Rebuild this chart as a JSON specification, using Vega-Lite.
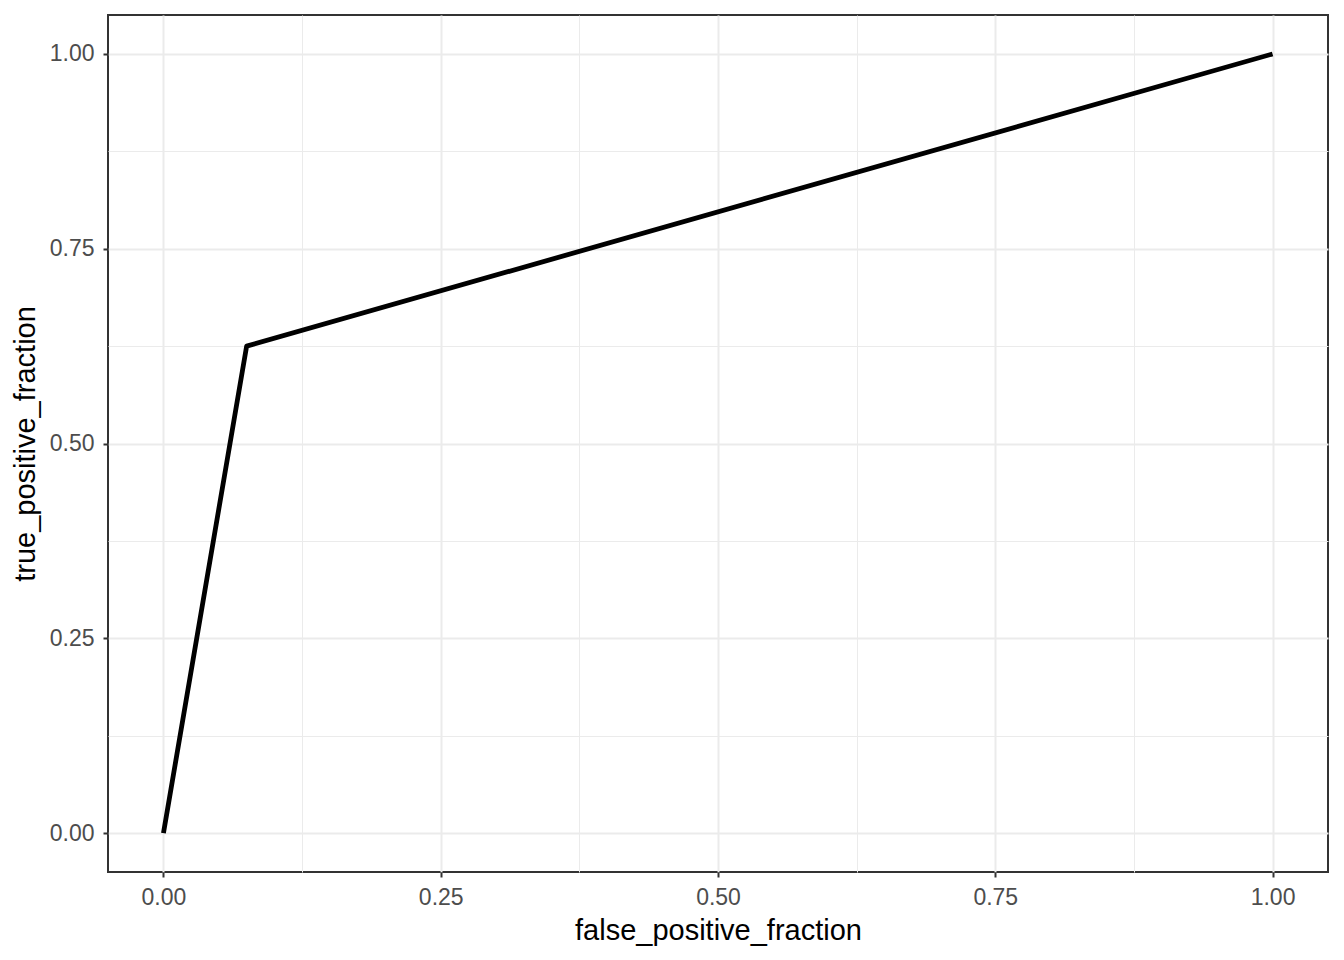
{
  "$schema": "https://vega.github.io/schema/vega-lite/v6.json",
  "autosize": {"type": "none"},
  "padding": {"left": 108, "top": 15, "right": 16, "bottom": 88},
  "width": 1220,
  "height": 857,
  "background": "white",
  "config": {
    "view": {"stroke": "#333333", "strokeWidth": 2},
    "font": "Liberation Sans",
    "axis": {
      "domain": false,
      "labelFont": "Liberation Sans",
      "labelFontSize": 23,
      "labelColor": "#4D4D4D",
      "titleFont": "Liberation Sans",
      "titleFontSize": 29,
      "titleFontWeight": "normal",
      "titleColor": "#000000",
      "tickColor": "#333333",
      "tickSize": 5,
      "tickWidth": 2,
      "gridColor": "#EBEBEB"
    }
  },
  "data": {
    "values": [
      {"false_positive_fraction": 0.0, "true_positive_fraction": 0.0, "order": 1},
      {"false_positive_fraction": 0.075, "true_positive_fraction": 0.625, "order": 2},
      {"false_positive_fraction": 1.0, "true_positive_fraction": 1.0, "order": 3}
    ]
  },
  "mark": {"type": "line", "color": "#000000", "strokeWidth": 4.8, "strokeJoin": "round", "strokeCap": "butt"},
  "encoding": {
    "x": {
      "field": "false_positive_fraction",
      "type": "quantitative",
      "title": "false_positive_fraction",
      "scale": {"domain": [-0.05, 1.05], "nice": false, "zero": false},
      "axis": {
        "values": [0, 0.125, 0.25, 0.375, 0.5, 0.625, 0.75, 0.875, 1],
        "labelExpr": "datum.value % 0.25 === 0 ? format(datum.value, '.2f') : ''",
        "gridWidth": {"condition": {"test": "datum.value % 0.25 === 0", "value": 2}, "value": 1},
        "tickOpacity": {"condition": {"test": "datum.value % 0.25 === 0", "value": 1}, "value": 0},
        "labelPadding": 9,
        "titlePadding": 7,
        "labelFlush": false,
        "labelOverlap": false
      }
    },
    "y": {
      "field": "true_positive_fraction",
      "type": "quantitative",
      "title": "true_positive_fraction",
      "scale": {"domain": [-0.05, 1.05], "nice": false, "zero": false},
      "axis": {
        "values": [0, 0.125, 0.25, 0.375, 0.5, 0.625, 0.75, 0.875, 1],
        "labelExpr": "datum.value % 0.25 === 0 ? format(datum.value, '.2f') : ''",
        "gridWidth": {"condition": {"test": "datum.value % 0.25 === 0", "value": 2}, "value": 1},
        "tickOpacity": {"condition": {"test": "datum.value % 0.25 === 0", "value": 1}, "value": 0},
        "labelPadding": 9,
        "titlePadding": 9,
        "labelFlush": false,
        "labelOverlap": false
      }
    },
    "order": {"field": "order", "type": "quantitative"}
  }
}
